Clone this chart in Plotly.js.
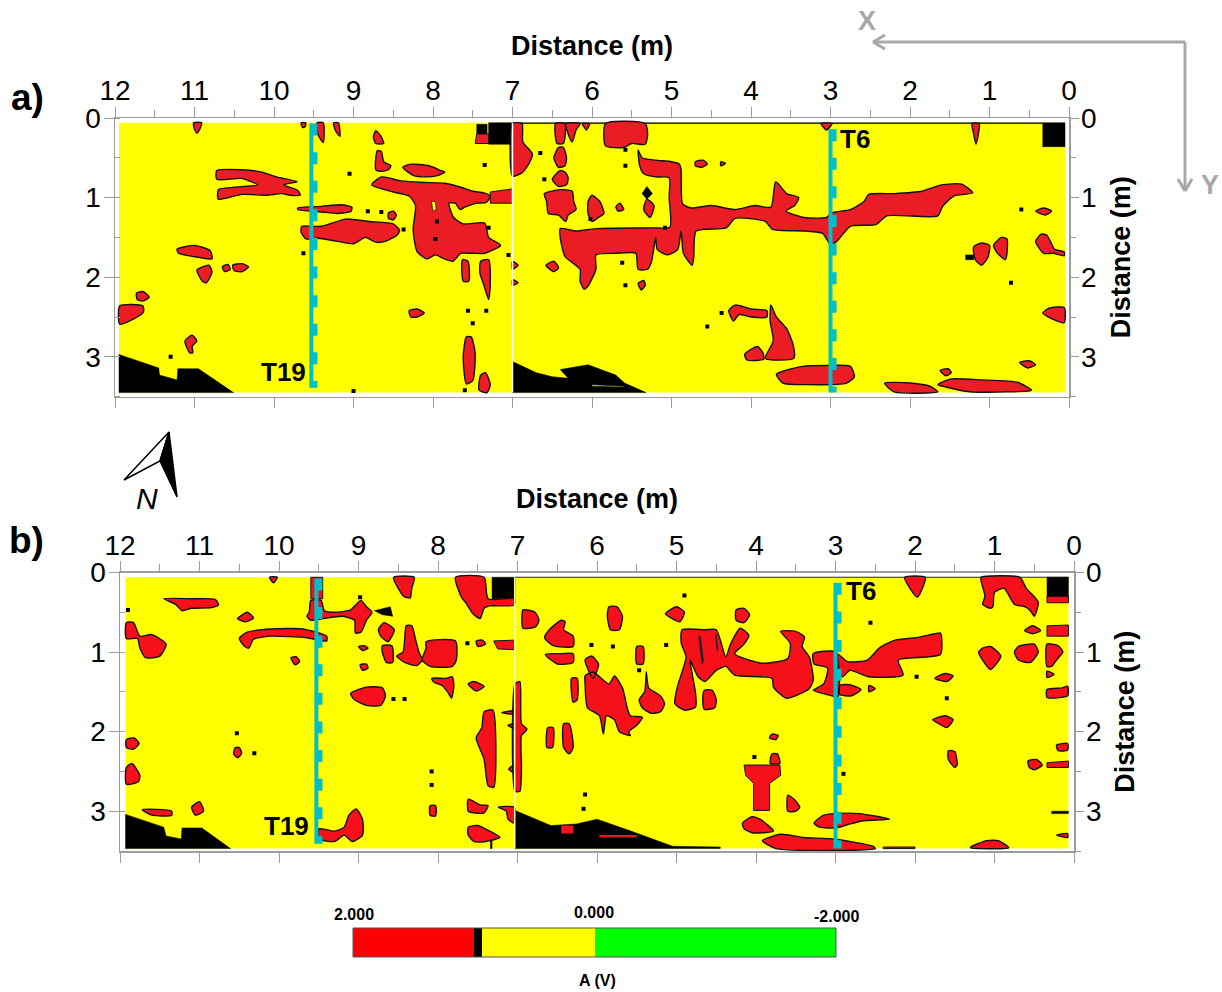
<!DOCTYPE html>
<html><head><meta charset="utf-8">
<script src="https://cdn.plot.ly/plotly-3.0.1.min.js"></script>
<style>html,body{margin:0;padding:0;background:#fff}</style></head>
<body><div id="chart" style="width:1222px;height:992px"></div>
<script>
const tickLabelsX = [12,11,10,9,8,7,6,5,4,3,2,1,0];
const tickLabelsY = [0,1,2,3];
const surveyExtentA = [11.95,0.05,0.06,3.45];
const surveyExtentB = [11.93,0.07,0.06,3.47];
const profileX = [9.53, 3.0];

const redBlobsA = [
[11.01,.06,10.91,.06,10.93,.13,10.97,.19,11,.14],
[9.66,.06,9.6,.06,9.61,.11,9.64,.12],
[9.46,.06,9.38,.06,9.38,.31,9.42,.26,9.45,.2],
[9.25,.06,9.19,.06,9.17,.23,9.2,.2,9.23,.15],
[8.72,.16,8.66,.22,8.62,.32,8.72,.32,8.75,.24],
[8.7,.41,8.65,.42,8.62,.55,8.53,.6,8.56,.65,8.65,.67,8.72,.65],
[8.38,.62,8.28,.58,8.05,.6,7.9,.66,7.85,.68,7.93,.72,8.1,.74,8.25,.72],
[8.77,.84,8.65,.74,8.4,.79,8.1,.81,7.85,.82,7.65,.87,7.5,.92,7.36,.94,7.28,.98,7.33,1.06,7.45,1.07,7.6,1.12,7.66,1.15,7.72,1.07,7.8,1.07,7.74,1.25,7.62,1.33,7.35,1.32,7.3,1.5,7.15,1.6,7.35,1.7,7.5,1.7,7.65,1.7,7.75,1.8,7.88,1.76,7.97,1.72,8.08,1.77,8.2,1.68,8.25,1.4,8.22,1.1,8.3,.98,8.5,.93],
[10.72,.66,10.4,.65,10.15,.68,9.97,.74,9.71,.8,9.88,.84,9.7,.91,9.67,.97,9.8,.97,9.9,.95,10.1,.97,10.4,.96,10.7,1.02,10.7,.9,10.5,.87,10.21,.84,10.4,.76,10.72,.77],
[9.7,1.13,9.4,1.11,9.15,1.09,9.02,1.12,9.03,1.17,9.2,1.2,9.4,1.18,9.7,1.15],
[9.65,1.36,9.55,1.36,9.4,1.36,9.1,1.27,8.8,1.3,8.5,1.33,8.42,1.41,8.45,1.47,8.6,1.55,8.72,1.56,8.85,1.5,9,1.58,9.2,1.55,9.45,1.51,9.6,1.52,9.66,1.43],
[8.56,1.19,8.5,1.17,8.46,1.22,8.5,1.28,8.56,1.26],
[11.22,1.65,11,1.6,10.8,1.67,10.78,1.77,10.95,1.75,11.2,1.7],
[10.97,1.91,10.82,1.85,10.78,1.93,10.85,2.07,10.9,2.05],
[10.65,1.87,10.58,1.84,10.55,1.9,10.62,1.93],
[10.52,1.85,10.4,1.83,10.32,1.87,10.4,1.93,10.5,1.92],
[11.73,2.2,11.65,2.18,11.57,2.25,11.65,2.3,11.72,2.28],
[11.94,2.36,11.65,2.36,11.64,2.43,11.72,2.5,11.94,2.59],
[11.12,2.8,11.03,2.73,10.97,2.8,11.03,2.87,11.02,2.95,11.06,2.95],
[8.3,2.42,8.2,2.4,8.11,2.45,8.2,2.5,8.28,2.5],
[7.63,1.78,7.56,1.8,7.55,2.05,7.62,2.05],
[7.4,1.8,7.3,1.78,7.28,2.1,7.3,2.28,7.36,2.1,7.41,1.95],
[7.58,2.75,7.52,2.75,7.47,2.95,7.5,3.3,7.58,3.34,7.62,3],
[7.4,3.23,7.34,3.2,7.28,3.35,7.32,3.45,7.42,3.42],
[7,.07,6.88,.07,6.87,.3,6.75,.45,6.78,.55,6.87,.68,7,.73],
[6.46,.07,6.34,.07,6.36,.32,6.44,.32],
[6.42,.37,6.48,.5,6.42,.62,6.34,.6,6.32,.5,6.36,.37],
[6.4,.66,6.5,.77,6.42,.86,6.32,.84,6.3,.75,6.34,.68],
[6.33,.07,6.15,.07,6.2,.15,6.25,.3,6.3,.2],
[6.12,.07,6.03,.07,6.07,.15],
[6.6,.95,6.4,.9,6.25,.92,6.23,1.05,6.2,1.15,6.3,1.22,6.33,1.3,6.42,1.22,6.55,1.2,6.57,1.05],
[6,.97,5.9,1.05,5.85,1.2,5.92,1.25,6,1.3,6.05,1.2,6.05,1.05],
[5.65,1.07,5.6,1.15,5.67,1.17,5.7,1.12],
[5.31,1.02,5.22,1.1,5.27,1.25,5.35,1.15],
[5.83,.07,5.33,.07,5.3,.2,5.33,.33,5.5,.32,5.6,.37,5.83,.35],
[5.42,.4,5.37,.5,5.2,.53,5,.55,4.9,.58,4.88,.65,4.86,1.08,4.75,1.13,4.5,1.1,4.2,1.15,3.95,1.1,3.75,1.12,3.69,.8,3.55,.95,3.4,1,3.45,1.1,3.56,1.17,3.33,1.25,3.05,1.25,2.98,1.19,2.75,1.15,2.58,1.05,2.52,.96,2.2,.95,1.85,.92,1.73,.88,1.6,.84,1.35,.83,1.21,.94,1.45,.98,1.59,1.11,1.65,1.23,2.29,1.23,2.43,1.34,2.75,1.36,2.92,1.55,3,1.59,3.1,1.45,3.33,1.42,3.73,1.4,3.82,1.3,4.2,1.26,4.31,1.38,4.69,1.42,4.72,1.74,4.74,1.85,4.85,1.7,4.88,1.42,4.92,1.65,5.05,1.72,5.18,1.65,5.2,1.5,5.25,1.8,5.3,1.9,5.42,1.9,5.45,1.7,5.7,1.7,5.95,1.72,5.95,1.9,6.05,2.11,6.1,2.15,6.15,2.05,6.15,1.9,6.34,1.74,6.4,1.5,6.4,1.39,6.2,1.42,5.95,1.39,5.24,1.38,5.02,1.37,5.03,1,5.03,.75,5.2,.74,5.35,.7,5.4,.6],
[4.7,.55,4.6,.53,4.55,.58,4.62,.62,4.7,.6],
[4.38,.55,4.32,.57,4.38,.6],
[6.58,1.85,6.48,1.8,6.42,1.88,6.48,1.93],
[5.42,2.08,5.35,2.04,5.33,2.1,5.38,2.16],
[4.28,2.42,4.2,2.35,4,2.4,3.8,2.42,3.8,2.5,4,2.5,4.15,2.47,4.22,2.55],
[3.75,2.35,3.68,2.5,3.55,2.65,3.47,2.85,3.46,3.02,3.82,3.02,3.72,2.8,3.76,2.55],
[3.92,2.87,3.85,2.95,3.84,3.03,4.05,3.04,4.08,2.97],
[3.68,3.22,3.35,3.12,3.05,3.11,2.75,3.12,2.7,3.25,2.8,3.33,3.3,3.35,3.6,3.33],
[2.32,3.33,2,3.33,1.75,3.37,1.65,3.44,2.2,3.44],
[1.65,3.35,1.5,3.28,1.1,3.29,.65,3.32,.47,3.42,.8,3.44,1.25,3.44,1.55,3.38],
[1.62,3.17,1.52,3.15,1.48,3.2,1.55,3.24],
[.62,3.07,.5,3.05,.42,3.1,.52,3.14],
[1.22,.07,1.13,.07,1.17,.33,1.2,.2],
[3.12,.07,2.98,.07,3.05,.15],
[.42,1.55,.35,1.46,.28,1.47,.18,1.65,.06,1.68,.06,1.73,.2,1.7,.32,1.7],
[.33,2.45,.25,2.39,.06,2.38,.06,2.57,.2,2.53],
[.42,1.17,.32,1.13,.22,1.17,.3,1.22],
[1.2,1.62,1.1,1.57,1,1.6,1.02,1.75,1.1,1.85,1.18,1.78],
[.95,1.6,.85,1.5,.78,1.52,.78,1.7,.8,1.78,.9,1.7],
[7,1.8,6.93,1.85,7,1.9],[7,2.03,6.93,2.07,7,2.1]
];
const redBlocksA = [
[7.28,.93,7,.89,7,1.07,7.28,1.07],
[7.45,.2,7.3,.2,7.3,.32,7.47,.32]
];
const blackBlocksA = [
[7.3,.06,7,.06,7,.33,7.3,.33],
[.33,.07,.05,.07,.05,.36,.33,.36],
[11.95,2.97,11.45,3.14,11.44,3.23,11.22,3.29,11.21,3.15,10.95,3.15,10.51,3.45,11.95,3.45],
[7,3.06,6.7,3.2,6.5,3.25,6.3,3.27,6.4,3.16,6.05,3.1,5.7,3.23,5.59,3.33,5.32,3.45,7,3.45],
[5.31,.86,5.24,.95,5.31,1.02,5.37,.95],
[7.45,.08,7.32,.08,7.32,.2,7.45,.2],
[1.3,1.72,1.2,1.72,1.2,1.78,1.3,1.78],
[7,.06,.05,.06,.05,.07,7,.07]
];
const holesA = [
[8.02,1.05,7.97,1.05,7.96,1.15,8,1.17],
[6,3.35,5.6,3.37,5.6,3.38,6,3.37]
];
const dotsAx = [9.05,7.35,8.37,8.82,8.65,7.56,7.33,7.5,9.63,11.3,7.95,7.97,9,7.6,7.3,7.05,5.58,6.65,6.6,5.58,5.58,5.62,6.02,4.55,4.37,.73,.6,5.08];
const dotsAy = [.7,.59,1.4,1.17,1.18,2.42,2.42,2.58,1.7,3,1.3,1.52,3.43,3.42,1.38,1.72,.6,.44,.77,.4,2.1,1.82,1.27,2.62,2.45,2.07,1.15,1.38];

const redBlobsB = [
[10.12,.06,10.02,.06,10.07,.13],
[9.62,.5,9.6,.35,9.47,.35,9.43,.48,9.3,.5,9.1,.47,8.97,.35,8.9,.43,8.83,.5,8.9,.6,8.97,.75,9.04,.76,9.05,.6,9.2,.55,9.45,.58,9.6,.6,9.65,.55],
[8.75,.72,8.68,.63,8.55,.72,8.63,.87,8.72,.8],
[8.7,.92,8.58,.92,8.57,1.13,8.65,1.13,8.7,1],
[8.4,.67,8.33,.67,8.28,.85,8.24,1,8.2,1.1,8.27,1.17,8.42,1.13,8.52,1.05,8.44,1,8.42,.85],
[8.15,.87,7.78,.86,7.77,1.1,7.82,1.18,8.1,1.18,8.2,1.1,8.15,.95],
[8.56,.06,8.3,.06,8.33,.2,8.35,.32,8.43,.3,8.5,.2],
[7.78,.06,7.42,.06,7.37,.33,7.04,.33,7.04,.41,7.35,.42,7.42,.45,7.47,.58,7.56,.52,7.65,.38,7.7,.32],
[7.52,.86,7.44,.85,7.4,.9,7.5,.93],
[8.08,1.33,7.9,1.33,7.82,1.31,7.8,1.42,7.83,1.58,7.88,1.5,7.95,1.42,8.05,1.38],
[7.62,1.4,7.55,1.37,7.42,1.43,7.52,1.49],
[9.1,1.52,8.9,1.44,8.7,1.45,8.66,1.55,8.72,1.67,8.9,1.67,9.05,1.6],
[9,.93,8.93,.92,8.88,.95,8.95,.98],
[8.98,1.16,8.9,1.15,8.88,1.2,8.95,1.23],
[9.85,1.07,9.78,1.06,9.74,1.12,9.8,1.16],
[10.52,.58,10.4,.5,10.32,.57,10.42,.62],
[11.45,.33,11.1,.33,10.8,.34,10.76,.41,10.85,.44,11.1,.45,11.22,.48,11.3,.4],
[10.5,.83,10.4,.75,10.1,.71,9.7,.71,9.4,.8,9.4,.86,9.65,.82,10.1,.8,10.3,.83,10.33,.85,10.38,.95,10.43,.93],
[11.92,.63,11.83,.63,11.75,.8,11.6,.78,11.42,.9,11.5,1.05,11.68,1.07,11.75,.95,11.78,.83,11.92,.83],
[11.92,2.1,11.82,2.08,11.76,2.15,11.83,2.22,11.92,2.2],
[11.92,2.45,11.85,2.4,11.75,2.55,11.77,2.63,11.92,2.66],
[10.55,2.2,10.5,2.2,10.47,2.27,10.52,2.33,10.57,2.28],
[11.1,2.95,11,2.88,10.95,3,11.05,3.05],
[11.72,2.98,11.35,3,11.35,3.05,11.6,3.05],
[9.5,3.22,9.3,3.25,9.18,3.2,9.12,3.05,9.03,2.97,8.95,3.1,8.95,3.3,9.08,3.38,9.18,3.3,9.3,3.38,9.5,3.35],
[8.1,2.93,8.03,2.93,8.03,3.06,8.1,3.05],
[7.62,2.85,7.47,2.92,7.37,2.93,7.42,3.02,7.55,3.02,7.62,3],
[7.62,3.2,7.5,3.18,7.35,3.25,7.22,3.33,7.4,3.38,7.55,3.38,7.62,3.3],
[7.42,1.75,7.31,1.73,7.3,2.7,7.37,2.68,7.42,2.35,7.52,2.08,7.45,1.95],
[7.03,1.4,6.97,1.37,6.95,1.9,6.88,1.97,6.95,2.05,6.95,2.45,6.97,2.75,7.03,2.75],
[7.11,2.47,7.04,2.42,7.04,2.52],
[7.2,1.76,7.04,1.74,7.04,1.78],
[7.12,1.92,7.04,1.9,7.04,1.96],
[7.24,2.95,7.04,2.95,7.04,3.15,7.12,3.1,7.14,3],
[6.93,.47,6.78,.5,6.73,.6,6.77,.68,6.93,.7],
[6.45,.6,6.6,.72,6.66,.82,6.55,.92,6.3,.93,6.3,.8,6.42,.72,6.4,.62],
[6.65,1.03,6.45,1.02,6.3,1.02,6.3,1.13,6.5,1.15],
[5.85,.43,5.75,.43,5.68,.55,5.72,.72,5.83,.72,5.87,.55],
[5.14,.52,5,.43,4.9,.5,4.96,.62,5.07,.57],
[4.25,.47,4.15,.45,4.08,.53,4.15,.63,4.25,.6],
[6.15,1.1,6.07,1.05,5.98,1.15,6.05,1.33],
[6.15,1.3,6.05,1.25,5.85,1.4,5.78,1.3,5.68,1.45,5.62,1.7,5.58,1.8,5.43,1.82,5.5,1.92,5.6,2,5.58,2.05,5.72,2,5.78,1.85,5.88,1.8,5.92,2.03,5.97,1.8,6.12,1.7,6.15,1.4],
[6.32,1.33,6.25,1.33,6.25,1.6,6.3,1.63],
[5.5,.93,5.42,.93,5.42,1.15,5.5,1.15],
[5.38,1.25,5.35,1.45,5.2,1.55,5.15,1.65,5.2,1.75,5.32,1.77,5.43,1.7,5.47,1.6,5.4,1.5],
[4.93,.72,4.64,.72,4.5,.72,4.38,1.06,4.32,.9,4.2,.7,4.09,.79,4.15,.9,4.27,1.02,3.93,1.14,3.6,1.08,3.57,.89,3.69,.74,3.5,.74,3.39,.81,3.42,.93,3.33,1.06,3.28,1.35,3.33,1.46,3.62,1.58,3.78,1.44,3.8,1.33,4.27,1.29,4.38,1.18,4.5,1.23,4.64,1.37,4.73,1.31,4.83,1.1,4.76,1.52,4.76,1.69,4.9,1.73,5.02,1.65,4.99,1.44,4.88,1.06,4.94,.89],
[4.65,1.48,4.55,1.48,4.5,1.6,4.52,1.7,4.65,1.72,4.67,1.6],
[3.28,1.02,3,1,2.97,1.56,3.12,1.53,3.28,1.48,3.15,1.4,3.1,1.2,3.27,1.15],
[2.98,1.02,2.85,1.12,2.6,1.1,2.45,.95,2.25,.85,2,.82,1.75,.77,1.68,.76,1.68,1.03,2.21,1.1,2.15,1.29,2.58,1.31,2.82,1.23,2.91,1.31,2.98,1.2],
[2.95,1.42,2.82,1.41,2.68,1.47,2.8,1.55,2.95,1.53],
[2.58,1.42,2.5,1.46,2.58,1.5],
[1.75,1.33,1.62,1.27,1.52,1.3,1.6,1.37],
[1.78,1.85,1.62,1.8,1.52,1.85,1.6,1.95,1.7,1.9],
[1.58,2.24,1.5,2.25,1.47,2.42,1.5,2.45,1.58,2.35],
[1.15,.95,1.05,.93,.92,1.05,1.05,1.22,1.15,1.1,1.2,1],
[.7,.93,.5,.9,.45,1,.55,1.13,.7,1.1,.75,1],
[.62,.73,.52,.67,.42,.73,.52,.77],
[1.17,.06,.68,.06,.6,.2,.45,.37,.5,.55,.55,.48,.62,.43,.75,.4,.88,.2,1,.25,1.02,.43,1.05,.45,1.15,.4,1.12,.3,1.17,.1],
[2.13,.06,1.87,.06,1.93,.25,1.97,.31,2.03,.25],
[.34,.9,.2,.92,.14,1,.22,1.1,.28,1.18,.34,1.18],
[.34,1.24,.25,1.28,.34,1.32],
[.34,1.47,.15,1.45,.08,1.43,.08,1.55,.34,1.57],
[.22,2.17,.08,2.15,.08,2.23,.2,2.24],
[.58,2.37,.47,2.35,.4,2.42,.5,2.48,.56,2.45],
[.22,3.3,.08,3.28,.08,3.33],
[3.92,3.37,3.69,3.29,3.4,3.33,3.02,3.35,2.53,3.44,2.5,3.47,3.75,3.47],
[3.27,3.15,3.15,3.05,3,3.03,2.7,3.03,2.32,3.1,2.65,3.12,2.85,3.17,3,3.21,3.2,3.2],
[4.17,3.15,4.05,3.07,3.95,3.1,3.78,3.25,4.05,3.27,4.15,3.22],
[3.8,2.28,3.73,2.28,3.7,2.4,3.82,2.4],
[3.8,2.03,3.72,2.05,3.75,2.1,3.83,2.08],
[3.6,2.8,3.52,2.85,3.45,2.95,3.5,3,3.6,3],
[6.62,1.95,6.55,1.95,6.56,2.2,6.63,2.2],
[6.42,1.9,6.35,1.9,6.3,2.2,6.35,2.28,6.42,2.2],
[1.3,3.45,1.1,3.37,.95,3.37,.82,3.46,1.3,3.46]
];
const redBlocksB = [
[9.6,.06,9.45,.06,9.45,.33,9.6,.33],
[7.3,.86,7.04,.85,7.04,.97,7.25,.96],
[4.15,2.42,3.7,2.42,3.69,2.55,3.83,2.65,3.83,2.99,4.03,2.99,4.03,2.65,4.13,2.55],
[.34,.67,.07,.66,.07,.8,.34,.8],
[.34,2.39,.07,2.37,.07,2.45,.34,2.45],
[.34,.3,.07,.3,.07,.38,.34,.38],
[2.4,3.45,2,3.45,2,3.47,2.4,3.47]
];
const blackBlocksB = [
[7.32,.06,7.03,.06,7.03,.33,7.32,.33],
[.34,.06,.07,.06,.07,.32,.34,.32],
[11.93,3.04,11.45,3.2,11.42,3.31,11.23,3.35,11.22,3.21,10.97,3.21,10.61,3.47,11.93,3.47],
[7.03,2.99,6.58,3.18,6.26,3.16,6,3.1,5.6,3.24,5.05,3.44,4.45,3.45,4.45,3.47,7.03,3.47],
[8.8,.48,8.6,.43,8.57,.55,8.7,.53],
[1.9,.8,1.72,.82,1.73,.87,1.85,.83],
[.28,3,.07,3,.07,3.03,.28,3.03],
[7.34,3.37,7.32,3.37,7.32,3.47,7.34,3.47],
[7.03,.06,.07,.06,.07,.065,7.03,.065]
];
const redOnBlackB = [
[6.45,3.18,6.3,3.18,6.3,3.28,6.45,3.28],
[5.97,3.3,5.5,3.3,5.5,3.33,5.97,3.33]
];
const slitsB = [
[4.72,.8,4.7,.8,4.66,1.12,4.68,1.15],
[4.51,.78,4.5,.78,4.48,.98,4.49,.98]
];
const dotsBx = [8.56,8.42,10.31,10.53,11.9,7.63,6.15,6.17,6.07,5.8,4.9,5.13,5.47,1.98,2.9,4.02,1.6,2.56,8.98,8.08,8.08];
const dotsBy = [1.59,1.59,2.27,2.02,.47,.89,2.79,2.97,.91,.93,.29,.91,1.23,1.31,2.53,2.32,1.58,.63,.31,2.5,2.67];

const scaleLabels = ['2.000','0.000','-2.000'];
const bandStart = [2, 1, 0.93, 0];
const bandSpan = [-1, -0.07, -0.93, -2];
const bandColors = ['#ff0000','#000000','#ffff00','#00ff00'];

// ---- helpers ----
const W = 1222, H = 992;
const px = v => v / W, py = v => 1 - v / H;
function flatten(polys){
  const x = [], y = [];
  polys.forEach(p => {
    for (let i = 0; i < p.length; i += 2){ x.push(p[i]); y.push(p[i+1]); }
    x.push(p[0]); y.push(p[1]); x.push(null); y.push(null);
  });
  return {x, y};
}
function fillTrace(polys, color, xa, ya, lineColor, lw, spline){
  const f = flatten(polys);
  return {x:f.x, y:f.y, xaxis:xa, yaxis:ya, mode:'lines', fill:'toself', fillcolor:color,
    line:{color:lineColor, width:lw, shape: spline ? 'spline' : 'linear', smoothing:0.6},
    hoverinfo:'skip', showlegend:false};
}
function rect(e){ return [[e[0],e[2],e[1],e[2],e[1],e[3],e[0],e[3]]]; }
function dots(x,y,xa,ya){
  return {x,y,xaxis:xa,yaxis:ya,mode:'markers',marker:{color:'#000',size:4,symbol:'square'},hoverinfo:'skip',showlegend:false};
}
function vline(x,y0,y1,color,w,dash,xa,ya){
  return {x:[x,x],y:[y0,y1],xaxis:xa,yaxis:ya,mode:'lines',line:{color,width:w,dash:dash||'solid'},hoverinfo:'skip',showlegend:false};
}
const TEAL = '#00bfc8', GREY = '#9c9c9c', FONT = '"Liberation Sans", Arial, sans-serif';
const RED_A = '#ec1c24', RED_B = '#f5101a';

function panel(ex, redBlobs, redBlocks, blackBlocks, extra, holes, holeLine, dx, dy, xa, ya, red, t19, t6, seam, seamColor){
  const out = [fillTrace(rect(ex), '#ffff00', xa, ya, '#ffff00', 0, false),
    fillTrace(blackBlocks, '#000', xa, ya, '#000', 0.5, false),
    fillTrace(redBlocks, red, xa, ya, '#111', 1, false),
    fillTrace(redBlobs, red, xa, ya, '#111', 1.4, true)];
  if (extra.length) out.push(fillTrace(extra, red, xa, ya, red, 0, false));
  if (holes.length) out.push(fillTrace(holes, holeLine, xa, ya, '#222', 0.8, false));
  out.push(dots(dx, dy, xa, ya));
  out.push(vline(seam, ex[2], ex[3], seamColor, 1.5, null, xa, ya));
  out.push(vline(profileX[0], t19[0], t19[1], TEAL, 4, null, xa, ya));
  out.push(vline(profileX[0]-0.045, t19[0], t19[1], TEAL, 5, '12px,16.6px', xa, ya));
  out.push(vline(profileX[1], t6[0], t6[1], TEAL, 4, null, xa, ya));
  out.push(vline(profileX[1]-0.045, t6[0], t6[1], TEAL, 5, '12px,16.6px', xa, ya));
  return out;
}

const traces = [].concat(
  panel(surveyExtentA, redBlobsA, redBlocksA, blackBlocksA, [], holesA, '#ffff00', dotsAx, dotsAy, 'x', 'y', RED_A, [.07,3.39], [.14,3.45], 7.0, '#ffffff'),
  panel(surveyExtentB, redBlobsB, redBlocksB, blackBlocksB, redOnBlackB, slitsB, '#222222', dotsBx, dotsBy, 'x3', 'y3', RED_B, [.075,3.41], [.13,3.47], 7.035, '#ffffa0'),
  [{x:[0],y:[0],xaxis:'x2',yaxis:'y2',mode:'markers',marker:{opacity:0},hoverinfo:'skip',showlegend:false},
   {x:[0],y:[0],xaxis:'x4',yaxis:'y4',mode:'markers',marker:{opacity:0},hoverinfo:'skip',showlegend:false}]
);
bandSpan.forEach((s,i) => traces.push({type:'bar',orientation:'h',x:[s],base:[bandStart[i]],y:[0],
  xaxis:'x5',yaxis:'y5',width:1,marker:{color:bandColors[i],line:{width:0}},hoverinfo:'skip',showlegend:false}));

const tickFont = {family:FONT,size:28,color:'#000'};
const titleFont = {family:FONT,size:27,color:'#000',weight:700};
function xTop(dom, over, anchor, standoff){
  return {domain:dom,range:[12,0],side:'top',anchor,tickmode:'array',tickvals:tickLabelsX,ticktext:tickLabelsX.map(String),
    ticks:'outside',ticklen:10,tickwidth:1,tickcolor:GREY,showline:true,linecolor:GREY,linewidth:1.5,
    tickfont:tickFont,ticklabelstandoff:-5,showgrid:false,zeroline:false,
    minor:{dtick:0.5,tick0:0,ticks:'outside',ticklen:7,tickwidth:1,tickcolor:GREY,showgrid:false},
    title:{text:'Distance (m)',font:titleFont,standoff}};
}
function xBottom(dom, over, anchor){
  return {domain:dom,range:[12,0],side:'bottom',anchor,overlaying:over,tickmode:'array',tickvals:tickLabelsX,
    ticks:'outside',ticklen:10,tickwidth:1,tickcolor:GREY,showline:true,linecolor:GREY,linewidth:1.5,
    showticklabels:false,showgrid:false,zeroline:false};
}
function yLeft(dom, anchor){
  return {domain:dom,range:[3.5,0],side:'left',anchor,tickmode:'array',tickvals:tickLabelsY,ticktext:tickLabelsY.map(String),
    ticks:'outside',ticklen:10,tickwidth:1,tickcolor:GREY,showline:true,linecolor:GREY,linewidth:1.5,
    tickfont:tickFont,ticklabelstandoff:-3,showgrid:false,zeroline:false,
    minor:{dtick:0.5,tick0:0,ticks:'inside',ticklen:5,tickwidth:1,tickcolor:GREY,showgrid:false}};
}
function yRight(dom, over, anchor, standoff){
  return {domain:dom,range:[3.5,0],side:'right',anchor,overlaying:over,tickmode:'array',tickvals:tickLabelsY,ticktext:tickLabelsY.map(String),
    ticks:'outside',ticklen:8,tickwidth:1,tickcolor:GREY,showline:true,linecolor:GREY,linewidth:1.5,
    tickfont:tickFont,ticklabelstandoff:-3,showgrid:false,zeroline:false,
    minor:{dtick:0.5,tick0:0,ticks:'outside',ticklen:5,tickwidth:1,tickcolor:GREY,showgrid:false},
    title:{text:'Distance (m)',font:titleFont,standoff}};
}
const domXA = [px(115),px(1069)], domYA = [py(396.6),py(118)];
const domXB = [px(120),px(1074)], domYB = [py(851),py(572.5)];

function note(text,x,y,size,opts){
  return Object.assign({text,xref:'paper',yref:'paper',x:px(x),y:py(y),xanchor:'center',yanchor:'middle',
    showarrow:false,font:{family:FONT,size,color:'#000',weight:700}},opts||{});
}
const arrowGrey = '#a8a8a8';
function seg(x0,y0,x1,y1){ return {type:'line',xref:'paper',yref:'paper',x0:px(x0),y0:py(y0),x1:px(x1),y1:py(y1),line:{color:arrowGrey,width:3}}; }
function poly(points,fill,line){
  const d = points.map((p,i)=>(i?'L':'M')+px(p[0])+','+py(p[1])).join(' ')+' Z';
  return {type:'path',xref:'paper',yref:'paper',path:d,fillcolor:fill,line:{color:line,width:1.5}};
}

const layout = {
  width:W,height:H,margin:{l:0,r:0,t:0,b:0},paper_bgcolor:'#fff',plot_bgcolor:'#fff',
  showlegend:false,barmode:'overlay',bargap:0,
  xaxis:xTop(domXA,null,'y',12), xaxis2:xBottom(domXA,'x','y2'),
  yaxis:yLeft(domYA,'x'), yaxis2:yRight(domYA,'y','x2',15),
  xaxis3:xTop(domXB,null,'y3',13), xaxis4:xBottom(domXB,'x3','y4'),
  yaxis3:yLeft(domYB,'x3'), yaxis4:yRight(domYB,'y3','x4',14),
  xaxis5:{domain:[px(353),px(836)],range:[2,-2],anchor:'y5',visible:false,fixedrange:true},
  yaxis5:{domain:[py(957),py(928)],range:[-0.5,0.5],anchor:'x5',visible:false,fixedrange:true},
  shapes:[
    seg(1185,42,874,42), seg(885,35,873,42), seg(885,49,873,42),
    seg(1185,42,1185,191), seg(1178,179,1185,191), seg(1192,179,1185,191),
    poly([[169,432],[124,480],[160,461]],'#fff','#000'),
    poly([[169,432],[160,461],[177,497]],'#000','#000'),
    {type:'rect',xref:'paper',yref:'paper',x0:px(353),x1:px(836),y0:py(957),y1:py(928),line:{color:'#555',width:1},fillcolor:'rgba(0,0,0,0)'}
  ],
  annotations:[
    note('a)',27,97,37), note('b)',26,540,37),
    note('X',867,21,27,{font:{family:FONT,size:27,color:arrowGrey,weight:700}}),
    note('Y',1210,185,27,{font:{family:FONT,size:27,color:arrowGrey,weight:700}}),
    note('N',147,498,30,{font:{family:FONT,size:30,color:'#000',style:'italic'}}),
    note('T19',283,372,26), note('T6',855,139,26),
    note('T19',286,826,26), note('T6',861,591,26),
    note(scaleLabels[0],354,914,16), note(scaleLabels[1],594,912,16), note(scaleLabels[2],836,916,16),
    note('A (V)',597,980,16)
  ]
};
Plotly.newPlot('chart',traces,layout,{displayModeBar:false,staticPlot:true});
</script></body></html>
